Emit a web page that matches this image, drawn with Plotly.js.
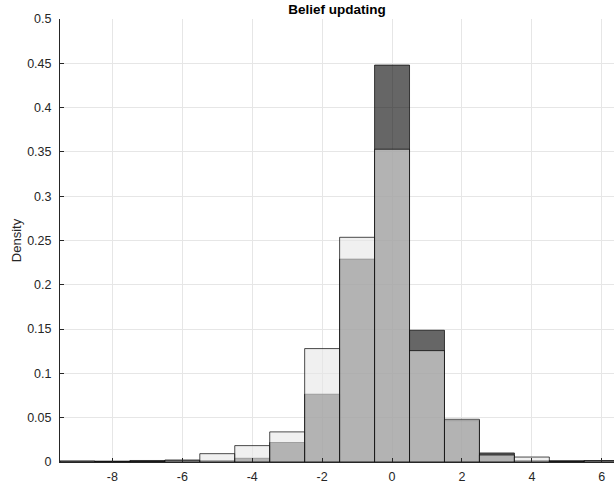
<!DOCTYPE html>
<html>
<head>
<meta charset="utf-8">
<script src="https://cdn.plot.ly/plotly-3.0.1.min.js"></script>
<style>html,body{margin:0;padding:0;background:#fff;}#chart{width:614px;height:484px;}</style>
</head>
<body>
<div id="chart"></div>
<script>
// Bin centres (bin width 1)
const binCenters = [-9, -8, -7, -6, -5, -4, -3, -2, -1, 0, 1, 2, 3, 4, 5, 6];
// Series A (dark histogram, drawn first)
const densityA = [0.001, 0.001, 0.0017, 0.002, 0.0015, 0.0042, 0.022, 0.0765, 0.229, 0.448, 0.1487, 0.0467, 0.0102, 0.0015, 0.0015, 0.0015];
// Series B (light histogram, drawn on top)
const densityB = [0.001, 0.0005, 0.0005, 0.002, 0.0094, 0.0185, 0.034, 0.128, 0.2536, 0.353, 0.1257, 0.0482, 0.0079, 0.0056, 0.0005, 0.0015];
const yTickVals = [0, 0.05, 0.1, 0.15, 0.2, 0.25, 0.3, 0.35, 0.4, 0.45, 0.5];
const yTickText = ['0', '0.05', '0.1', '0.15', '0.2', '0.25', '0.3', '0.35', '0.4', '0.45', '0.5'];
const xTickVals = [-8, -6, -4, -2, 0, 2, 4, 6];
const xTickText = ['-8', '-6', '-4', '-2', '0', '2', '4', '6'];

const font = 'Liberation Sans, Arial, Helvetica, sans-serif';
const traces = [
  {
    type: 'bar', x: binCenters, y: densityA, width: 1,
    marker: {color: 'rgba(0,0,0,0.6)', line: {color: 'rgba(0,0,0,0.7)', width: 1}},
    hoverinfo: 'x+y', showlegend: false
  },
  {
    type: 'bar', x: binCenters, y: densityB, width: 1,
    marker: {color: 'rgba(230,230,230,0.6)', line: {color: 'rgba(0,0,0,0.7)', width: 1}},
    hoverinfo: 'x+y', showlegend: false
  }
];
const layout = {
  width: 614, height: 484,
  margin: {l: 60, r: 0, t: 19, b: 22, pad: 0},
  paper_bgcolor: '#fff', plot_bgcolor: '#fff',
  barmode: 'overlay', bargap: 0,
  font: {family: font, size: 12.5, color: '#262626'},
  title: {text: '<b>Belief updating</b>', x: 0.549, xanchor: 'center', y: 0.98, yanchor: 'middle',
          font: {family: font, size: 13.5, color: '#000'}},
  xaxis: {
    range: [-9.5, 6.35], tickmode: 'array', tickvals: xTickVals, ticktext: xTickText,
    showgrid: true, gridcolor: '#e6e6e6', gridwidth: 1,
    zeroline: false, showline: true, linecolor: '#262626', linewidth: 1,
    ticks: 'inside', ticklen: 4, tickcolor: '#262626', ticklabelstandoff: 3,
    tickfont: {family: font, size: 12.5, color: '#262626'}
  },
  yaxis: {
    range: [0, 0.5], tickmode: 'array', tickvals: yTickVals, ticktext: yTickText,
    showgrid: true, gridcolor: '#e6e6e6', gridwidth: 1,
    zeroline: false, showline: true, linecolor: '#262626', linewidth: 1,
    ticks: 'inside', ticklen: 4, tickcolor: '#262626', ticklabelstandoff: 5,
    tickfont: {family: font, size: 12.5, color: '#262626'},
    title: {text: 'Density', font: {family: font, size: 13, color: '#262626'}, standoff: 2}
  }
};
Plotly.newPlot('chart', traces, layout, {displayModeBar: false, staticPlot: true});
</script>
</body>
</html>
